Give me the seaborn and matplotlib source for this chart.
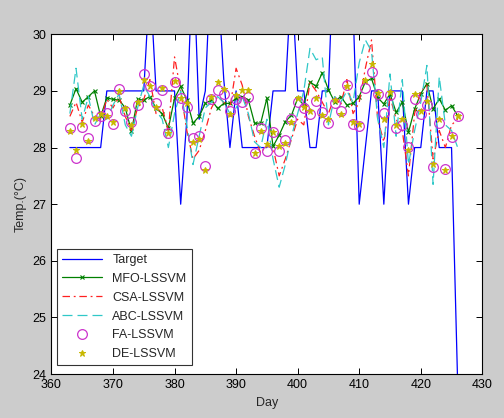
import numpy as np
import pandas as pd
import matplotlib
matplotlib.use("Agg")
import matplotlib.pyplot as plt
import seaborn as sns

# ==========================================
# Data
# ==========================================

days = list(range(363, 427))

target = [28, 28, 28, 28, 28, 28, 29, 29, 29, 29, 29, 29, 29, 31, 29, 29,
          29, 29, 27, 28.5, 31.5, 28.5, 29, 31.5, 31, 29.2, 28, 29, 28, 28,
          28, 28, 28, 29, 29, 29, 31, 29, 29, 28, 28, 29, 29, 32, 32, 32,
          30.5, 27, 28, 29, 29, 27, 29, 29, 29, 27, 28, 28, 29, 29, 28, 28,
          28, 23.8]

mfo = [28.75, 29.04, 28.8, 28.9, 29.0, 28.55, 28.88, 28.85, 28.84, 28.7,
       28.29, 28.85, 28.84, 28.9, 28.69, 28.6, 28.34, 28.87, 29.08, 28.84,
       28.43, 28.55, 28.78, 28.84, 28.69, 28.78, 28.78, 28.87, 28.9, 28.84,
       28.43, 28.43, 28.87, 28.02, 28.22, 28.46, 28.57, 28.87, 28.75, 29.16,
       29.08, 29.32, 29.02, 28.81, 28.9, 28.75, 28.78, 28.9, 29.16, 29.22,
       28.88, 28.77, 28.95, 28.62, 28.8, 28.27, 28.68, 28.95, 29.13, 28.68,
       28.86, 28.66, 28.74, 28.56]

csa = [28.55, 28.8, 28.45, 28.75, 28.55, 28.5, 28.85, 28.7, 28.9, 28.55,
       28.3, 28.7, 28.85, 29.2, 28.6, 28.7, 28.3, 29.6, 29.0, 28.3,
       27.8, 27.95, 28.3, 28.7, 28.9, 28.8, 28.7, 29.4, 29.1, 28.55,
       28.2, 27.9, 28.05, 28.0, 27.5, 27.8, 28.15, 28.5, 28.4, 29.15,
       29.0, 28.8, 28.6, 28.9, 28.75, 29.2, 28.6, 28.8, 29.4, 29.9,
       28.5, 28.1, 28.9, 28.5, 28.3, 27.5, 28.6, 29.0, 29.1, 27.8,
       28.3, 28.0, 28.4, 28.5]

abc = [28.6, 29.4, 28.5, 28.9, 28.4, 28.6, 28.5, 28.75, 28.95, 28.4,
       28.2, 28.7, 29.1, 28.9, 28.65, 28.5, 28.0, 28.6, 29.0, 28.4,
       27.7, 28.2, 28.7, 28.8, 28.9, 28.8, 28.6, 28.7, 28.9, 28.6,
       28.1, 28.0, 28.5, 27.8, 27.3, 27.7, 28.2, 28.6, 29.0, 29.75,
       29.55, 29.6, 28.4, 28.9, 28.8, 29.0, 28.8, 29.5, 29.9, 29.7,
       28.5, 28.0, 29.3, 28.2, 29.2, 27.7, 28.3, 28.8, 29.45, 27.35,
       29.25, 28.4, 28.3, 28.0]

fa = [28.35, 27.82, 28.37, 28.17, 28.47, 28.55, 28.61, 28.41, 29.04, 28.65,
      28.45, 28.75, 29.29, 29.09, 28.78, 29.02, 28.25, 29.15, 28.88, 28.71,
      28.16, 28.2, 27.67, 28.85, 29.01, 28.95, 28.64, 28.86, 28.8, 28.89,
      27.9, 28.35, 27.94, 28.27, 27.94, 28.14, 28.5, 28.8, 28.69, 28.59,
      28.82, 28.62, 28.44, 28.78, 28.65, 29.1, 28.41, 28.38, 29.06, 29.33,
      28.95, 28.61, 28.93, 28.35, 28.39, 28.01, 28.85, 28.59, 28.75, 27.65,
      28.44, 27.62, 28.19, 28.55]

de = [28.3, 27.95, 28.42, 28.12, 28.52, 28.6, 28.55, 28.46, 29.0, 28.7,
      28.4, 28.8, 29.2, 29.09, 28.72, 29.05, 28.25, 29.18, 28.88, 28.78,
      28.1, 28.15, 27.6, 28.9, 29.15, 29.03, 28.6, 28.92, 29.02, 29.01,
      27.9, 28.3, 28.06, 28.27, 28.03, 28.08, 28.45, 28.87, 28.72, 28.65,
      28.88, 28.58, 28.5, 28.84, 28.59, 29.08, 28.45, 28.42, 29.2, 29.48,
      28.97, 28.5, 28.98, 28.4, 28.5, 27.96, 28.95, 28.64, 28.83, 27.71,
      28.5, 27.61, 28.2, 28.56]

# ==========================================
# Plot
# ==========================================

sns.set_style("white")
plt.rcParams["font.family"] = ["Liberation Sans", "DejaVu Sans"]

fig = plt.figure(figsize=(5.04, 4.18), dpi=100, facecolor="#cccccc")
ax = fig.add_axes([0.102, 0.105, 0.855, 0.813])
ax.set_facecolor("white")

sns.lineplot(x=days, y=target, ax=ax, color="#0000ff", lw=0.9,
             label="Target")
sns.lineplot(x=days, y=mfo, ax=ax, color="#008000", lw=0.9, marker="x",
             markersize=3.5, markeredgewidth=0.8, markeredgecolor="#008000",
             label="MFO-LSSVM")
sns.lineplot(x=days, y=csa, ax=ax, color="#ff2020", lw=0.9,
             linestyle=(0, (6, 3, 1.5, 3)), label="CSA-LSSVM")
sns.lineplot(x=days, y=abc, ax=ax, color="#30c8c8", lw=0.9,
             linestyle=(0, (8, 4)), label="ABC-LSSVM")
sns.lineplot(x=days, y=fa, ax=ax, color="#cc33cc", linestyle="none",
             marker="o", markersize=7, markerfacecolor="none",
             markeredgecolor="#cc33cc", markeredgewidth=0.9, label="FA-LSSVM")
sns.lineplot(x=days, y=de, ax=ax, color="#c8b800", linestyle="none",
             marker="*", markersize=5, markeredgecolor="#c8b800",
             label="DE-LSSVM")

ax.set_xlim(360, 430)
ax.set_ylim(24, 30)
ax.set_xticks(range(360, 431, 10))
ax.set_yticks(range(24, 31))

for side in ["top", "right", "bottom", "left"]:
    ax.spines[side].set_visible(True)
    ax.spines[side].set_color("black")
    ax.spines[side].set_linewidth(0.8)

ax.tick_params(direction="in", length=4, width=0.7, top=True, right=True,
               bottom=True, left=True, labelsize=9, colors="black")

ax.set_xlabel("Day", fontsize=9)
ax.set_ylabel("Temp.(°C)", fontsize=9)

leg = ax.legend(loc="lower left", bbox_to_anchor=(0.014, 0.026),
                borderaxespad=0, fontsize=9, frameon=True, fancybox=False,
                edgecolor="black", handlelength=3.2, labelspacing=0.55,
                borderpad=0.4)
leg.get_frame().set_linewidth(0.8)

plt.savefig("out.png", dpi=100, facecolor=fig.get_facecolor())
